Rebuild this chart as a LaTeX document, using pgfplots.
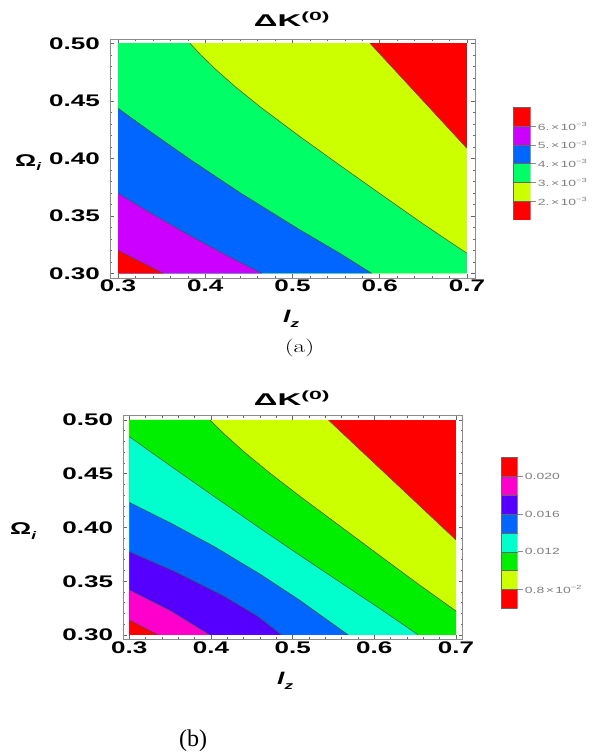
\documentclass[border=0pt]{standalone}
\usepackage{fontspec}
\setmainfont{Liberation Serif}
\newfontfamily\mfont[FakeStretch=1.55]{Liberation Sans}
\usepackage{graphicx}
\usepackage{pgfplots}
\pgfplotsset{compat=1.18}
\definecolor{cR}{HTML}{FF0000}
\definecolor{cY}{HTML}{CCFF00}
\definecolor{cGa}{HTML}{00FF66}
\definecolor{cB}{HTML}{0066FF}
\definecolor{cP}{HTML}{CC00FF}
\definecolor{cGb}{HTML}{00EE00}
\definecolor{cC}{HTML}{00FFCC}
\definecolor{cI}{HTML}{5500FF}
\definecolor{cM}{HTML}{FF00CC}
\pgfplotsset{
  contourframe/.style={scale only axis, axis on top,
    xtick={0.3,0.4,0.5,0.6,0.7}, ytick={0.30,0.35,0.40,0.45,0.50},
    minor x tick num=4, minor y tick num=4,
    tick align=inside, major tick length=4pt, minor tick length=2pt,
    axis line style={black!45, line width=0.7pt},
    tick style={black!60, line width=0.5pt},
    /pgf/number format/assume math mode=true,
    tick label style={font=\mfont\bfseries\fontsize{16.8}{17}\selectfont},
    xticklabel style={/pgf/number format/.cd, fixed, fixed zerofill, precision=1, /tikz/.cd, inner sep=0pt, yshift=-2pt},
    yticklabel style={/pgf/number format/.cd, fixed, fixed zerofill, precision=2, /tikz/.cd, inner sep=0pt, xshift=-10pt}},
  cline/.style={black!70, line width=0.5pt},
  cbar/.style={scale only axis, xmin=0, xmax=1, axis line style={draw=none},
    xtick=\empty, ytick pos=right, yticklabel pos=right, tick align=outside,
    major tick length=5pt, tick style={black!45, line width=0.4pt},
    yticklabel style={font=\mfont\fontsize{9}{9}\selectfont, text=black!50, inner sep=0pt, xshift=2pt}},
  cell/.style={fill=#1, draw=black!60, line width=0.3pt},
}
\begin{document}
\begin{tikzpicture}
\path[use as bounding box, fill=white] (0,0) rectangle (595pt,753pt);

% ---------- (a) ----------
\begin{axis}[contourframe, at={(110pt,475pt)}, anchor=south west,
  width=365pt, height=239pt,
  xmin=0.2908, xmax=0.7092, ymin=0.2959, ymax=0.5037]
\addplot[fill=cR, draw=none] coordinates {(0.3,0.3) (0.7,0.3) (0.7,0.5) (0.3,0.5)} -- cycle;
\addplot[fill=cY, draw=none] coordinates {(0.3,0.5) (0.5888,0.5) (0.7,0.4086) (0.7,0.3) (0.3,0.3)} -- cycle;
\addplot[fill=cGa, draw=none] coordinates {(0.3,0.5) (0.3825,0.5) (0.3940,0.4905) (0.4112,0.4778)
  (0.4341,0.4624) (0.4628,0.4448) (0.5086,0.4188) (0.5564,0.3928) (0.6041,0.3672) (0.6519,0.3418)
  (0.7,0.3174) (0.7,0.3) (0.3,0.3)} -- cycle;
\addplot[fill=cB, draw=none] coordinates {(0.3,0.4435) (0.3367,0.4234) (0.3825,0.3991) (0.4398,0.3701)
  (0.5086,0.3377) (0.5545,0.3173) (0.5908,0.3) (0.3,0.3)} -- cycle;
\addplot[fill=cP, draw=none] coordinates {(0.3,0.3696) (0.3367,0.3528) (0.3825,0.3328) (0.4226,0.3164)
  (0.4647,0.3) (0.3,0.3)} -- cycle;
\addplot[fill=cR, draw=none] coordinates {(0.3,0.320) (0.352,0.3) (0.3,0.3)} -- cycle;
% contour lines
\addplot[cline] coordinates {(0.5888,0.5) (0.7,0.4086)};
\addplot[cline] coordinates {(0.3825,0.5) (0.3940,0.4905) (0.4112,0.4778) (0.4341,0.4624) (0.4628,0.4448)
  (0.5086,0.4188) (0.5564,0.3928) (0.6041,0.3672) (0.6519,0.3418) (0.7,0.3174)};
\addplot[cline] coordinates {(0.3,0.4435) (0.3367,0.4234) (0.3825,0.3991) (0.4398,0.3701) (0.5086,0.3377)
  (0.5545,0.3173) (0.5908,0.3)};
\addplot[cline] coordinates {(0.3,0.3696) (0.3367,0.3528) (0.3825,0.3328) (0.4226,0.3164) (0.4647,0.3)};
\addplot[cline] coordinates {(0.3,0.320) (0.352,0.3)};
\end{axis}

\begin{axis}[cbar, at={(512.7pt,533pt)}, anchor=south west, width=18pt, height=112.7pt,
  ymin=0, ymax=6, ytick={1,2,3,4,5},
  yticklabels={2.\,×\,10\textsuperscript{−3}, 3.\,×\,10\textsuperscript{−3}, 4.\,×\,10\textsuperscript{−3},
    5.\,×\,10\textsuperscript{−3}, 6.\,×\,10\textsuperscript{−3}}]
\addplot[cell=cR] coordinates {(0,0) (1,0) (1,1) (0,1)} -- cycle;
\addplot[cell=cY] coordinates {(0,1) (1,1) (1,2) (0,2)} -- cycle;
\addplot[cell=cGa] coordinates {(0,2) (1,2) (1,3) (0,3)} -- cycle;
\addplot[cell=cB] coordinates {(0,3) (1,3) (1,4) (0,4)} -- cycle;
\addplot[cell=cP] coordinates {(0,4) (1,4) (1,5) (0,5)} -- cycle;
\addplot[cell=cR] coordinates {(0,5) (1,5) (1,6) (0,6)} -- cycle;
\end{axis}

\node[anchor=base, inner sep=0pt] at (292pt,726pt)
  {\mfont\bfseries\fontsize{17}{17}\selectfont\scalebox{1.25}[1]{ΔK\textsuperscript{(0)}}};
\node[anchor=base west, inner sep=0pt] at (15pt,586.5pt)
  {\mfont\bfseries\fontsize{17}{17}\selectfont Ω\raisebox{-0.25em}{\fontsize{11}{11}\selectfont\itshape i}};
\node[anchor=base west, inner sep=0pt] at (283pt,430pt)
  {\mfont\bfseries\itshape\fontsize{17}{17}\selectfont l\raisebox{-0.25em}{\fontsize{11}{11}\selectfont z}};
\node[inner sep=0pt] at (299.5pt,404.5pt)
  {\fontspec{Latin Modern Roman}\fontsize{18}{18}\selectfont\scalebox{1.4}[1]{(a)}};

% ---------- (b) ----------
\begin{axis}[contourframe, at={(123.3pt,113.7pt)}, anchor=south west,
  width=339.4pt, height=223.6pt,
  xmin=0.29265, xmax=0.7082, ymin=0.296, ymax=0.504]
\addplot[fill=cR, draw=none] coordinates {(0.3,0.3) (0.7,0.3) (0.7,0.5) (0.3,0.5)} -- cycle;
\addplot[fill=cY, draw=none] coordinates {(0.3,0.5) (0.5437,0.5) (0.7,0.3884) (0.7,0.3) (0.3,0.3)} -- cycle;
\addplot[fill=cGb, draw=none] coordinates {(0.3,0.5) (0.3988,0.5) (0.4172,0.4863) (0.4417,0.4696)
  (0.4723,0.4505) (0.509,0.429) (0.5568,0.402) (0.6045,0.3751) (0.6523,0.3482) (0.7,0.3223)
  (0.7,0.3) (0.3,0.3)} -- cycle;
\addplot[fill=cC, draw=none] coordinates {(0.3,0.4845) (0.3498,0.4576) (0.4049,0.4283) (0.46,0.3993)
  (0.509,0.3740) (0.558,0.3491) (0.607,0.3244) (0.6539,0.3) (0.3,0.3)} -- cycle;
\addplot[fill=cB, draw=none] coordinates {(0.3,0.4234) (0.3498,0.4045) (0.4049,0.3819) (0.46,0.3567)
  (0.509,0.3322) (0.5682,0.3) (0.3,0.3)} -- cycle;
\addplot[fill=cI, draw=none] coordinates {(0.3,0.3775) (0.356,0.3589) (0.4172,0.3356) (0.458,0.317)
  (0.4866,0.3) (0.3,0.3)} -- cycle;
\addplot[fill=cM, draw=none] coordinates {(0.3,0.3419) (0.3498,0.3229) (0.3988,0.3) (0.3,0.3)} -- cycle;
\addplot[fill=cR, draw=none] coordinates {(0.3,0.314) (0.3355,0.3) (0.3,0.3)} -- cycle;
% contour lines
\addplot[cline] coordinates {(0.5437,0.5) (0.7,0.3884)};
\addplot[cline] coordinates {(0.3988,0.5) (0.4172,0.4863) (0.4417,0.4696) (0.4723,0.4505) (0.509,0.429)
  (0.5568,0.402) (0.6045,0.3751) (0.6523,0.3482) (0.7,0.3223)};
\addplot[cline] coordinates {(0.3,0.4845) (0.3498,0.4576) (0.4049,0.4283) (0.46,0.3993) (0.509,0.3740)
  (0.558,0.3491) (0.607,0.3244) (0.6539,0.3)};
\addplot[cline] coordinates {(0.3,0.4234) (0.3498,0.4045) (0.4049,0.3819) (0.46,0.3567) (0.509,0.3322) (0.5682,0.3)};
\addplot[cline] coordinates {(0.3,0.3775) (0.356,0.3589) (0.4172,0.3356) (0.458,0.317) (0.4866,0.3)};
\addplot[cline] coordinates {(0.3,0.3419) (0.3498,0.3229) (0.3988,0.3)};
\addplot[cline] coordinates {(0.3,0.314) (0.3355,0.3)};
\end{axis}

\begin{axis}[cbar, at={(500.7pt,144.7pt)}, anchor=south west, width=17pt, height=151pt,
  ymin=0, ymax=8, ytick={1,3,5,7},
  yticklabels={0.8\,×\,10\textsuperscript{−2}, 0.012, 0.016, 0.020}]
\addplot[cell=cR] coordinates {(0,0) (1,0) (1,1) (0,1)} -- cycle;
\addplot[cell=cY] coordinates {(0,1) (1,1) (1,2) (0,2)} -- cycle;
\addplot[cell=cGb] coordinates {(0,2) (1,2) (1,3) (0,3)} -- cycle;
\addplot[cell=cC] coordinates {(0,3) (1,3) (1,4) (0,4)} -- cycle;
\addplot[cell=cB] coordinates {(0,4) (1,4) (1,5) (0,5)} -- cycle;
\addplot[cell=cI] coordinates {(0,5) (1,5) (1,6) (0,6)} -- cycle;
\addplot[cell=cM] coordinates {(0,6) (1,6) (1,7) (0,7)} -- cycle;
\addplot[cell=cR] coordinates {(0,7) (1,7) (1,8) (0,8)} -- cycle;
\end{axis}

\node[anchor=base, inner sep=0pt] at (292pt,347pt)
  {\mfont\bfseries\fontsize{17}{17}\selectfont\scalebox{1.25}[1]{ΔK\textsuperscript{(0)}}};
\node[anchor=base west, inner sep=0pt] at (10pt,218pt)
  {\mfont\bfseries\fontsize{17}{17}\selectfont Ω\raisebox{-0.25em}{\fontsize{11}{11}\selectfont\itshape i}};
\node[anchor=base west, inner sep=0pt] at (277pt,68pt)
  {\mfont\bfseries\itshape\fontsize{17}{17}\selectfont l\raisebox{-0.25em}{\fontsize{11}{11}\selectfont z}};
\node[inner sep=0pt] at (193pt,12pt)
  {\fontsize{24}{24}\selectfont (b)};
\end{tikzpicture}
\end{document}
